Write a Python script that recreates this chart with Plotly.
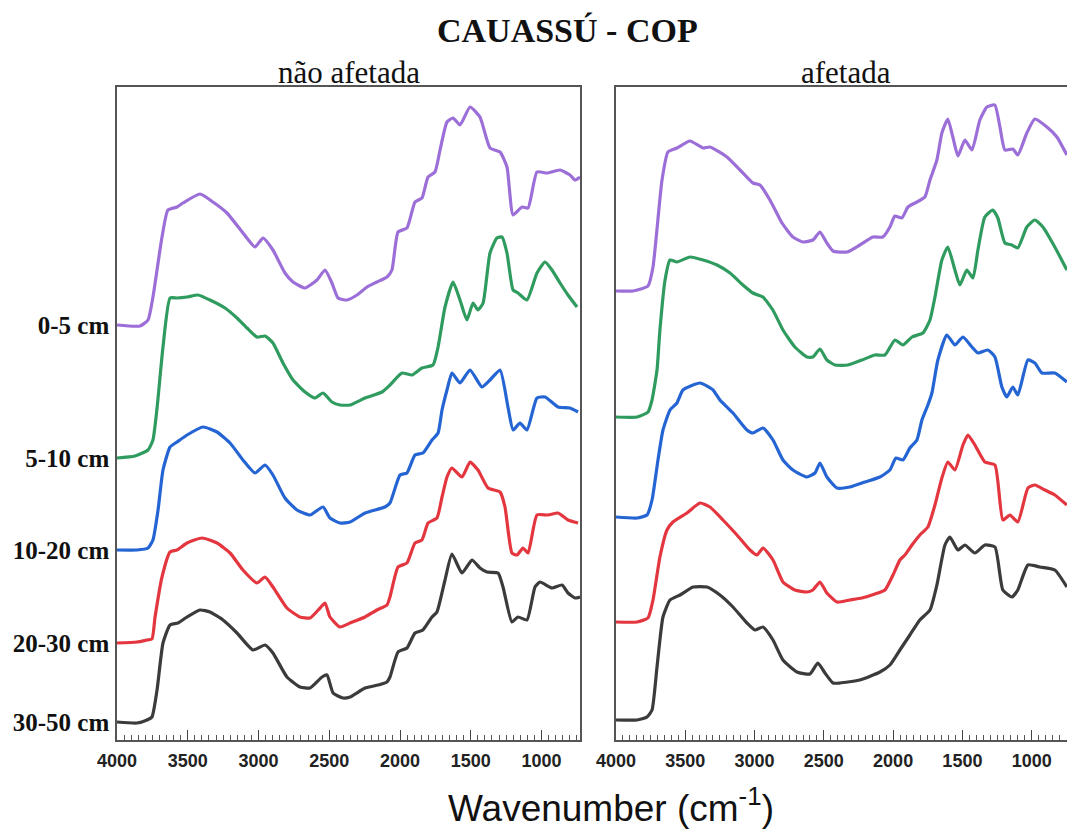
import plotly.graph_objects as go

# ---------------- data (wavenumber in cm-1, stacked absorbance, a.u.) ----------------
depth_labels = ["0-5 cm", "5-10 cm", "10-20 cm", "20-30 cm", "30-50 cm"]

# --- não afetada ---
na_05_wn = [4000, 3837, 3781, 3746, 3682, 3640, 3576, 3534, 3413, 3322, 3223, 3110, 3025, 2968, 2898, 2813, 2756, 2671, 2587, 2530,
            2481, 2438, 2375, 2304, 2233, 2163, 2092, 2057, 2014, 1951, 1894, 1845, 1802, 1753, 1717, 1668, 1625, 1576, 1505, 1435,
            1364, 1293, 1244, 1201, 1138, 1095, 1032, 961, 869, 799, 763, 728]
na_05_ab = [4.15, 4.14, 4.20, 4.43, 5.03, 5.30, 5.33, 5.37, 5.46, 5.38, 5.27, 5.07, 4.93, 5.02, 4.90, 4.67, 4.58, 4.52, 4.60, 4.70,
            4.57, 4.42, 4.40, 4.45, 4.53, 4.58, 4.63, 4.70, 5.08, 5.12, 5.38, 5.42, 5.63, 5.68, 5.90, 6.18, 6.22, 6.15, 6.33, 6.23,
            5.92, 5.88, 5.73, 5.25, 5.33, 5.32, 5.68, 5.67, 5.70, 5.65, 5.60, 5.63]

na_510_wn = [4000, 3873, 3781, 3746, 3717, 3675, 3625, 3576, 3505, 3428, 3343, 3237, 3152, 3081, 3011, 2954, 2898, 2827, 2756, 2671,
             2601, 2544, 2481, 2424, 2353, 2247, 2127, 2071, 1986, 1915, 1845, 1767, 1731, 1682, 1625, 1576, 1527, 1484, 1449, 1413,
             1364, 1315, 1279, 1244, 1201, 1166, 1103, 1032, 975, 926, 869, 813, 749]
na_510_ab = [2.82, 2.84, 2.90, 3.00, 3.32, 3.93, 4.42, 4.42, 4.43, 4.45, 4.40, 4.32, 4.22, 4.12, 4.03, 4.04, 3.97, 3.77, 3.60, 3.48,
             3.42, 3.47, 3.38, 3.35, 3.35, 3.42, 3.48, 3.55, 3.67, 3.65, 3.72, 3.75, 3.93, 4.33, 4.58, 4.40, 4.20, 4.37, 4.30, 4.37,
             4.87, 5.02, 5.03, 4.87, 4.50, 4.47, 4.40, 4.67, 4.78, 4.70, 4.57, 4.45, 4.33]

na_1020_wn = [4000, 3859, 3781, 3746, 3710, 3675, 3625, 3576, 3505, 3392, 3293, 3201, 3110, 3025, 2954, 2898, 2813, 2728, 2636, 2544,
              2495, 2424, 2353, 2247, 2106, 2071, 2000, 1951, 1894, 1838, 1774, 1731, 1703, 1668, 1633, 1576, 1505, 1421, 1364, 1293,
              1237, 1201, 1152, 1103, 1032, 975, 883, 799, 742]
na_1020_ab = [1.90, 1.90, 1.92, 2.00, 2.30, 2.70, 2.93, 2.98, 3.05, 3.13, 3.08, 2.97, 2.80, 2.67, 2.75, 2.65, 2.42, 2.30, 2.25, 2.33,
              2.22, 2.17, 2.18, 2.27, 2.33, 2.37, 2.65, 2.67, 2.85, 2.87, 3.00, 3.07, 3.30, 3.50, 3.67, 3.57, 3.70, 3.53, 3.60, 3.70,
              3.33, 3.10, 3.17, 3.10, 3.42, 3.43, 3.33, 3.32, 3.28]

na_2030_wn = [4000, 3859, 3788, 3753, 3731, 3682, 3625, 3576, 3505, 3399, 3293, 3201, 3110, 3011, 2954, 2898, 2799, 2707, 2636, 2565,
              2530, 2495, 2424, 2353, 2247, 2163, 2092, 2071, 2014, 1951, 1894, 1845, 1802, 1739, 1703, 1668, 1633, 1562, 1505, 1449,
              1378, 1293, 1258, 1209, 1173, 1131, 1095, 1032, 954, 883, 813, 742]
na_2030_ab = [0.97, 0.98, 1.00, 1.01, 1.23, 1.63, 1.88, 1.90, 1.97, 2.02, 1.97, 1.87, 1.70, 1.57, 1.63, 1.53, 1.32, 1.23, 1.22, 1.32,
              1.37, 1.23, 1.13, 1.17, 1.23, 1.30, 1.35, 1.43, 1.73, 1.77, 1.97, 2.00, 2.17, 2.22, 2.43, 2.63, 2.72, 2.63, 2.78, 2.70,
              2.52, 2.48, 2.33, 1.87, 1.85, 1.92, 1.87, 2.25, 2.25, 2.27, 2.20, 2.17]

na_3050_wn = [4000, 3859, 3788, 3753, 3717, 3675, 3625, 3569, 3505, 3413, 3343, 3251, 3152, 3039, 2954, 2898, 2799, 2707, 2636, 2551,
              2516, 2473, 2403, 2353, 2247, 2155, 2092, 2071, 2014, 1951, 1894, 1838, 1774, 1739, 1682, 1633, 1562, 1491, 1435, 1385,
              1307, 1272, 1209, 1166, 1103, 1046, 1011, 926, 855, 813, 763, 728]
na_3050_ab = [0.18, 0.17, 0.20, 0.23, 0.50, 0.97, 1.15, 1.17, 1.23, 1.30, 1.28, 1.20, 1.07, 0.90, 0.95, 0.87, 0.63, 0.53, 0.52, 0.63,
              0.65, 0.47, 0.42, 0.43, 0.52, 0.55, 0.58, 0.63, 0.88, 0.92, 1.07, 1.10, 1.23, 1.28, 1.60, 1.86, 1.67, 1.80, 1.72, 1.68,
              1.67, 1.53, 1.18, 1.23, 1.20, 1.53, 1.58, 1.52, 1.55, 1.47, 1.42, 1.43]

# --- afetada ---
af_05_wn = [4000, 3877, 3769, 3733, 3668, 3625, 3560, 3466, 3372, 3322, 3199, 3105, 3012, 2961, 2889, 2802, 2723, 2651, 2579, 2528,
            2478, 2434, 2333, 2240, 2146, 2074, 2023, 1987, 1937, 1893, 1828, 1771, 1734, 1684, 1648, 1605, 1569, 1532, 1482, 1431,
            1374, 1323, 1266, 1229, 1193, 1136, 1100, 1035, 977, 890, 818, 746]
af_05_ab = [4.49, 4.49, 4.54, 4.73, 5.60, 5.88, 5.92, 5.99, 5.92, 5.93, 5.83, 5.70, 5.57, 5.55, 5.40, 5.17, 5.03, 4.98, 5.00, 5.08,
            4.97, 4.89, 4.88, 4.95, 5.03, 5.03, 5.13, 5.24, 5.22, 5.33, 5.38, 5.43, 5.60, 5.80, 6.07, 6.21, 6.03, 5.84, 6.00, 5.90,
            6.20, 6.33, 6.35, 6.13, 5.90, 5.91, 5.85, 6.07, 6.21, 6.13, 6.03, 5.85]

af_510_wn = [4000, 3848, 3769, 3740, 3704, 3683, 3646, 3610, 3560, 3466, 3372, 3271, 3177, 3084, 3012, 2940, 2868, 2795, 2709, 2622,
             2579, 2528, 2478, 2420, 2326, 2225, 2131, 2059, 1987, 1929, 1864, 1785, 1734, 1698, 1648, 1605, 1554, 1518, 1468, 1424,
             1388, 1338, 1280, 1244, 1193, 1143, 1100, 1035, 977, 919, 833, 746]
af_510_ab = [3.23, 3.23, 3.28, 3.40, 3.70, 4.10, 4.60, 4.80, 4.78, 4.83, 4.80, 4.75, 4.67, 4.55, 4.47, 4.43, 4.30, 4.10, 3.93, 3.83,
             3.83, 3.91, 3.80, 3.75, 3.75, 3.80, 3.85, 3.85, 4.00, 3.95, 4.03, 4.07, 4.20, 4.43, 4.80, 4.93, 4.70, 4.55, 4.70, 4.62,
             4.90, 5.23, 5.30, 5.22, 4.97, 4.95, 4.92, 5.13, 5.20, 5.13, 4.93, 4.70]

af_1020_wn = [4000, 3848, 3776, 3740, 3697, 3661, 3610, 3560, 3517, 3394, 3300, 3250, 3156, 3055, 3012, 2939, 2867, 2795, 2723, 2622,
              2564, 2528, 2478, 2405, 2312, 2203, 2095, 2023, 1980, 1929, 1879, 1828, 1792, 1749, 1720, 1677, 1612, 1554, 1496, 1431,
              1388, 1316, 1265, 1215, 1179, 1136, 1100, 1027, 977, 926, 833, 746]
af_1020_ab = [2.23, 2.22, 2.25, 2.40, 2.80, 3.10, 3.30, 3.37, 3.50, 3.57, 3.50, 3.40, 3.27, 3.10, 3.07, 3.12, 3.00, 2.80, 2.70, 2.63,
              2.67, 2.77, 2.63, 2.52, 2.53, 2.58, 2.63, 2.70, 2.82, 2.80, 2.92, 3.00, 3.20, 3.35, 3.47, 3.80, 4.05, 3.95, 4.03, 3.93,
              3.87, 3.90, 3.83, 3.53, 3.43, 3.53, 3.45, 3.80, 3.77, 3.67, 3.67, 3.58]

af_2030_wn = [4000, 3848, 3769, 3733, 3683, 3632, 3589, 3488, 3394, 3322, 3228, 3127, 3033, 2983, 2939, 2867, 2795, 2709, 2622, 2579,
              2528, 2478, 2405, 2312, 2225, 2131, 2059, 2001, 1951, 1915, 1864, 1807, 1749, 1698, 1648, 1605, 1554, 1496, 1460, 1410,
              1338, 1265, 1208, 1157, 1100, 1027, 977, 905, 833, 746]
af_2030_ab = [1.18, 1.18, 1.22, 1.40, 1.83, 2.10, 2.18, 2.27, 2.37, 2.33, 2.20, 2.05, 1.90, 1.85, 1.92, 1.80, 1.58, 1.50, 1.48, 1.50,
              1.58, 1.47, 1.38, 1.40, 1.42, 1.46, 1.50, 1.65, 1.80, 1.85, 1.95, 2.05, 2.13, 2.35, 2.62, 2.78, 2.70, 2.95, 3.05, 2.95,
              2.78, 2.75, 2.20, 2.25, 2.18, 2.52, 2.55, 2.50, 2.45, 2.35]

af_3050_wn = [4000, 3848, 3776, 3740, 3704, 3661, 3610, 3538, 3444, 3343, 3250, 3156, 3055, 2997, 2939, 2867, 2795, 2694, 2600, 2543,
              2492, 2434, 2384, 2240, 2095, 2023, 1951, 1879, 1807, 1734, 1684, 1626, 1590, 1532, 1482, 1410, 1338, 1265, 1208, 1143,
              1100, 1027, 941, 833, 746]
af_3050_ab = [0.20, 0.20, 0.23, 0.30, 0.73, 1.23, 1.40, 1.45, 1.53, 1.53, 1.45, 1.33, 1.17, 1.10, 1.13, 1.00, 0.80, 0.68, 0.66, 0.77,
              0.67, 0.57, 0.57, 0.60, 0.68, 0.75, 0.90, 1.05, 1.20, 1.30, 1.55, 1.95, 2.03, 1.90, 1.95, 1.87, 1.95, 1.93, 1.50, 1.43,
              1.50, 1.75, 1.73, 1.70, 1.53]

series_colors = ["#9c6fd8", "#2f9b5f", "#2565d3", "#e3363f", "#3b3b3b"]

# ---------------- figure ----------------
W, H = 1067, 836
fig = go.Figure()

left = [(na_05_wn, na_05_ab), (na_510_wn, na_510_ab), (na_1020_wn, na_1020_ab),
        (na_2030_wn, na_2030_ab), (na_3050_wn, na_3050_ab)]
right = [(af_05_wn, af_05_ab), (af_510_wn, af_510_ab), (af_1020_wn, af_1020_ab),
         (af_2030_wn, af_2030_ab), (af_3050_wn, af_3050_ab)]

for (wn, ab), c, name in zip(left, series_colors, depth_labels):
    fig.add_trace(go.Scatter(x=wn, y=ab, mode="lines", name=name, showlegend=False,
                             line=dict(color=c, width=3.2, shape="spline", smoothing=0.5),
                             xaxis="x", yaxis="y", hoverinfo="skip"))
for (wn, ab), c, name in zip(right, series_colors, depth_labels):
    fig.add_trace(go.Scatter(x=wn, y=ab, mode="lines", name=name, showlegend=False,
                             line=dict(color=c, width=3.2, shape="spline", smoothing=0.5),
                             xaxis="x2", yaxis="y2", hoverinfo="skip"))

ytop, ybot = 87, 740
ydom = [1 - ybot / H, 1 - ytop / H]
frame = "#555555"

xcommon = dict(showline=True, linecolor=frame, linewidth=1.5, showgrid=False, zeroline=False,
               automargin=False,
               ticks="inside", ticklen=10, tickwidth=1.2, tickcolor="#444",
               tick0=0, dtick=500,
               minor=dict(dtick=50, tick0=0, ticks="inside", ticklen=5, tickwidth=1, tickcolor="#555"),
               tickfont=dict(family="Liberation Sans, Arial", size=18, color="#222", weight="bold"),
               ticklabelstandoff=4)

fig.update_layout(
    width=W, height=H, autosize=False,
    margin=dict(l=0, r=0, t=0, b=0, autoexpand=False),
    paper_bgcolor="white", plot_bgcolor="white",
    xaxis=dict(domain=[117 / W, 580 / W], range=[4000, 728], anchor="y", mirror=True, **xcommon),
    yaxis=dict(domain=ydom, range=[0, 6.53], anchor="x", showline=True, mirror=True, automargin=False,
               linecolor=frame, linewidth=1.5, showgrid=False, zeroline=False, ticks="",
               tickvals=[na_05_ab[0], na_510_ab[0], na_1020_ab[0], na_2030_ab[0], na_3050_ab[0]],
               ticktext=depth_labels, ticklabelstandoff=1,
               tickfont=dict(family="Liberation Serif, Times New Roman", size=25, color="#111", weight="bold")),
    xaxis2=dict(domain=[616 / W, 1.0], range=[4000, 745], anchor="y2", mirror=True, **xcommon),
    yaxis2=dict(domain=ydom, range=[0, 6.53], anchor="x2", showline=True, mirror=False, automargin=False,
                linecolor=frame, linewidth=1.5, showgrid=False, zeroline=False, ticks="",
                showticklabels=False),
)

fig.add_annotation(text="<b>CAUASSÚ - COP</b>", x=567 / W, y=1 - 31 / H, xref="paper", yref="paper",
                   showarrow=False, xanchor="center", yanchor="middle",
                   font=dict(family="Liberation Serif, Times New Roman", size=34, color="#111"))
fig.add_annotation(text="não afetada", x=348.5 / W, y=1 - 72 / H, xref="paper", yref="paper",
                   showarrow=False, xanchor="center", yanchor="middle",
                   font=dict(family="Liberation Serif, Times New Roman", size=31, color="#111"))
fig.add_annotation(text="afetada", x=846 / W, y=1 - 72 / H, xref="paper", yref="paper",
                   showarrow=False, xanchor="center", yanchor="middle",
                   font=dict(family="Liberation Serif, Times New Roman", size=31, color="#111"))
fig.add_annotation(text="Wavenumber (cm<sup>-1</sup>)", x=611 / W, y=1 - 805 / H, xref="paper", yref="paper",
                   showarrow=False, xanchor="center", yanchor="middle",
                   font=dict(family="Liberation Sans, Arial", size=37, color="#111"))

fig.write_html("out.html")
